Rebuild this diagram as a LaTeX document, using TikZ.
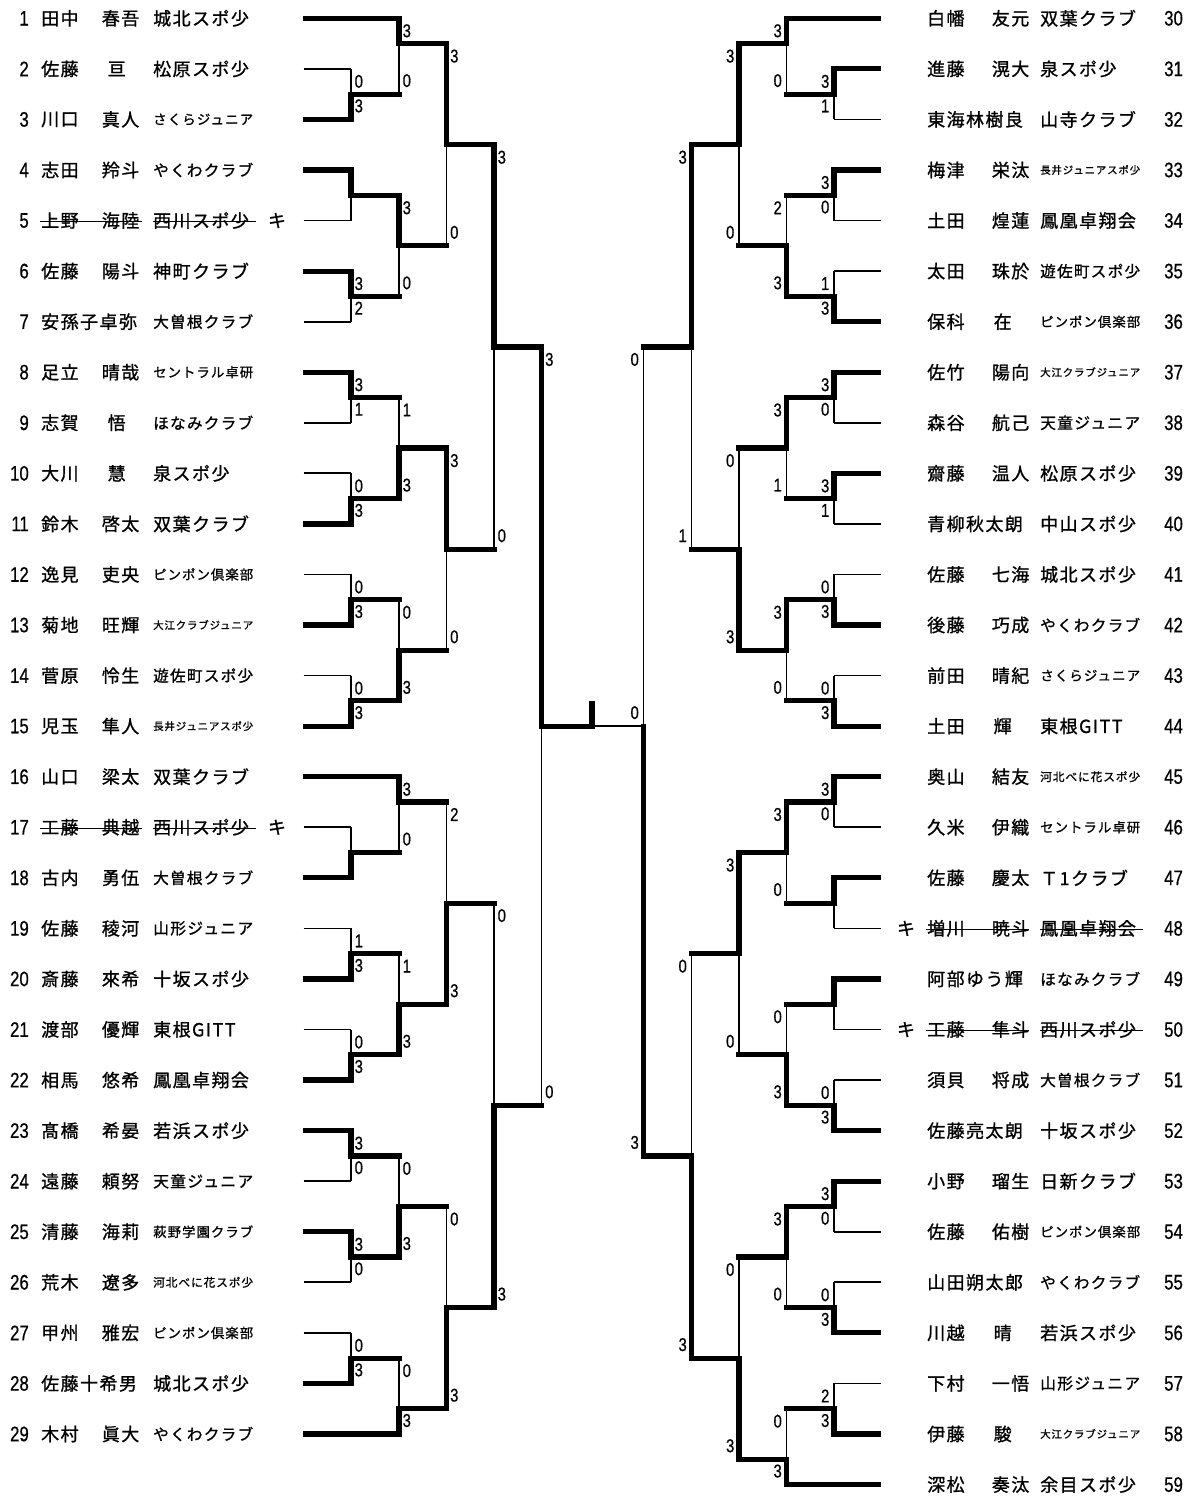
\documentclass[tikz,border=0pt]{standalone}
\usepackage{fontspec}
\usepackage{graphicx}
\newfontfamily\jp[LetterSpace=8,FakeBold=1]{Noto Sans CJK JP}
\newfontfamily\dg[FakeStretch=0.8,FakeBold=0.6]{Liberation Sans}
\newsavebox\clubbox
\newlength\clubw \setlength\clubw{100pt}
\newcommand\fitclub[1]{\sbox\clubbox{\jp\fontsize{18}{18}\selectfont #1}\ifdim\wd\clubbox>\clubw\resizebox{\clubw}{!}{\usebox\clubbox}\else\usebox\clubbox\fi}
\tikzset{
 thk/.style={line width=5.2pt, line cap=rect},
 thn/.style={line width=1.7pt},
 lbl/.style={font=\dg\fontsize{18.5}{18.5}\selectfont, inner sep=0pt},
 num/.style={font=\dg\fontsize{21}{21}\selectfont, inner sep=0pt},
 nm/.style={font=\jp\fontsize{18}{18}\selectfont, inner sep=0pt},
 strike/.style={line width=1.3pt},
}
% left player: row, num, family, given, club
\newcommand\PL[5]{%
 \node[num,anchor=east] (ln#2) at (29,#1) {#2};
 \node[nm,anchor=west] (lf#2) at (41,#1) {#3};
 \node[nm,anchor=east] (lg#2) at (139.5,#1) {#4};
 \node[nm,anchor=west] (lc#2) at (153,#1) {\fitclub{#5}};}
\newcommand\PLc[5]{%
 \node[num,anchor=east] (ln#2) at (29,#1) {#2};
 \node[nm,anchor=west] (lf#2) at (41,#1) {#3};
 \node[nm] (lg#2) at (116.7,#1) {#4};
 \node[nm,anchor=west] (lc#2) at (153,#1) {\fitclub{#5}};}
\newcommand\PLf[4]{%
 \node[num,anchor=east] (ln#2) at (29,#1) {#2};
 \node[nm,anchor=west] (lf#2) at (41,#1) {#3};
 \node[nm,anchor=west] (lc#2) at (153,#1) {\fitclub{#4}};}
\newcommand\PR[5]{%
 \node[nm,anchor=west] (rf#2) at (927,#1) {#3};
 \node[nm,anchor=east] (rg#2) at (1029.5,#1) {#4};
 \node[nm,anchor=west] (rc#2) at (1040,#1) {\fitclub{#5}};
 \node[num,anchor=west] (rn#2) at (1164,#1) {#2};}
\newcommand\PRc[5]{%
 \node[nm,anchor=west] (rf#2) at (927,#1) {#3};
 \node[nm] (rg#2) at (1002.7,#1) {#4};
 \node[nm,anchor=west] (rc#2) at (1040,#1) {\fitclub{#5}};
 \node[num,anchor=west] (rn#2) at (1164,#1) {#2};}
\newcommand\PRf[4]{%
 \node[nm,anchor=west] (rf#2) at (927,#1) {#3};
 \node[nm,anchor=west] (rc#2) at (1040,#1) {\fitclub{#4}};
 \node[num,anchor=west] (rn#2) at (1164,#1) {#2};}
% match: x, top, bottom, junction, winner(1/2), score top, score bottom, side L/R
\newcommand\mt[8]{%
 \ifnum#5=1\relax
  \draw[thn] (#1,#3) -- (#1,#4);
  \draw[thk] (#1,#2) -- (#1,#4);
 \else
  \draw[thn] (#1,#2) -- (#1,#4);
  \draw[thk] (#1,#3) -- (#1,#4);
 \fi
 \if#8L\relax
  \node[lbl,anchor=west,xshift=3.5pt,yshift=-12.5pt] at (#1,#2) {#6};
  \node[lbl,anchor=west,xshift=3.5pt,yshift=13.5pt] at (#1,#3) {#7};
 \else
  \node[lbl,anchor=east,xshift=-4.5pt,yshift=-12.5pt] at (#1,#2) {#6};
  \node[lbl,anchor=east,xshift=-4.5pt,yshift=13.5pt] at (#1,#3) {#7};
 \fi}
\begin{document}
\begin{tikzpicture}[x=1pt,y=-50.56pt]
\fill[white] (0pt,0pt) rectangle (1194pt,-1499pt);
\useasboundingbox (0pt,0pt) rectangle (1194pt,-1499pt);
\begin{scope}[yshift=-18.3pt]
% ---------- left texts ----------
\PL{0}{1}{田中}{春吾}{城北スポ少}
\PLc{1}{2}{佐藤}{亘}{松原スポ少}
\PL{2}{3}{川口}{真人}{さくらジュニア}
\PL{3}{4}{志田}{羚斗}{やくわクラブ}
\PL{4}{5}{上野}{海陸}{西川スポ少}
\PL{5}{6}{佐藤}{陽斗}{神町クラブ}
\PLf{6}{7}{安孫子卓弥}{大曽根クラブ}
\PL{7}{8}{足立}{晴哉}{セントラル卓研}
\PLc{8}{9}{志賀}{悟}{ほなみクラブ}
\PLc{9}{10}{大川}{慧}{泉スポ少}
\PL{10}{11}{鈴木}{啓太}{双葉クラブ}
\PL{11}{12}{逸見}{吏央}{ピンポン倶楽部}
\PL{12}{13}{菊地}{旺輝}{大江クラブジュニア}
\PL{13}{14}{菅原}{怜生}{遊佐町スポ少}
\PL{14}{15}{児玉}{隼人}{長井ジュニアスポ少}
\PL{15}{16}{山口}{梁太}{双葉クラブ}
\PL{16}{17}{工藤}{典越}{西川スポ少}
\PL{17}{18}{古内}{勇伍}{大曽根クラブ}
\PL{18}{19}{佐藤}{稜河}{山形ジュニア}
\PL{19}{20}{斎藤}{來希}{十坂スポ少}
\PL{20}{21}{渡部}{優輝}{東根GITT}
\PL{21}{22}{相馬}{悠希}{鳳凰卓翔会}
\PL{22}{23}{髙橋}{希晏}{若浜スポ少}
\PL{23}{24}{遠藤}{頼努}{天童ジュニア}
\PL{24}{25}{清藤}{海莉}{萩野学園クラブ}
\PL{25}{26}{荒木}{遼多}{河北べに花スポ少}
\PL{26}{27}{甲州}{雅宏}{ピンポン倶楽部}
\PLf{27}{28}{佐藤十希男}{城北スポ少}
\PL{28}{29}{木村}{眞大}{やくわクラブ}
\node[nm] (lk5) at (277,4) {キ};
\node[nm] (lk17) at (277,16) {キ};
\foreach \r in {4,16}{
 \draw[strike] (40,\r+0.02) -- (142,\r+0.02);
 \draw[strike] (153,\r+0.02) -- (256,\r+0.02);}
% ---------- right texts ----------
\PR{0}{30}{白幡}{友元}{双葉クラブ}
\PR{1}{31}{進藤}{滉大}{泉スポ少}
\PRf{2}{32}{東海林樹良}{山寺クラブ}
\PR{3}{33}{梅津}{栄汰}{長井ジュニアスポ少}
\PR{4}{34}{土田}{煌蓮}{鳳凰卓翔会}
\PR{5}{35}{太田}{珠於}{遊佐町スポ少}
\PRc{6}{36}{保科}{在}{ピンポン倶楽部}
\PR{7}{37}{佐竹}{陽向}{大江クラブジュニア}
\PR{8}{38}{森谷}{航己}{天童ジュニア}
\PR{9}{39}{齋藤}{温人}{松原スポ少}
\PRf{10}{40}{青柳秋太朗}{中山スポ少}
\PR{11}{41}{佐藤}{七海}{城北スポ少}
\PR{12}{42}{後藤}{巧成}{やくわクラブ}
\PR{13}{43}{前田}{晴紀}{さくらジュニア}
\PRc{14}{44}{土田}{輝}{東根GITT}
\PR{15}{45}{奥山}{結友}{河北べに花スポ少}
\PR{16}{46}{久米}{伊織}{セントラル卓研}
\PR{17}{47}{佐藤}{慶太}{Ｔ1クラブ}
\PR{18}{48}{増川}{暁斗}{鳳凰卓翔会}
\PRf{19}{49}{阿部ゆう輝}{ほなみクラブ}
\PR{20}{50}{工藤}{隼斗}{西川スポ少}
\PR{21}{51}{須貝}{将成}{大曽根クラブ}
\PRf{22}{52}{佐藤亮太朗}{十坂スポ少}
\PR{23}{53}{小野}{瑠生}{日新クラブ}
\PR{24}{54}{佐藤}{佑樹}{ピンポン倶楽部}
\PRf{25}{55}{山田朔太郎}{やくわクラブ}
\PRc{26}{56}{川越}{晴}{若浜スポ少}
\PR{27}{57}{下村}{一悟}{山形ジュニア}
\PRc{28}{58}{伊藤}{駿}{大江クラブジュニア}
\PR{29}{59}{深松}{奏汰}{余目スポ少}
\node[nm] (rk48) at (906,18) {キ};
\node[nm] (rk50) at (906,20) {キ};
\foreach \r in {18,20}{
 \draw[strike] (926,\r+0.02) -- (1029,\r+0.02);
 \draw[strike] (1040,\r+0.02) -- (1143,\r+0.02);}
% ---------- left bracket ----------
\foreach \r in {1,4,6,8,9,11,13,16,18,20,23,25,26} \draw[thn] (303.5,\r) -- (351,\r);
\foreach \r in {2,3,5,7,10,12,14,17,19,21,22,24,27} \draw[thk] (306,\r) -- (351,\r);
\foreach \r in {0,15,28} \draw[thk] (306,\r) -- (399,\r);
\foreach \j in {1.5,3.5,5.5,7.5,9.5,11.5,13.5,16.5,18.5,20.5,22.5,24.5,26.5} \draw[thk] (351,\j) -- (399,\j);
\foreach \j in {0.5,4.5,8.5,12.5,15.5,19.5,23.5,27.5} \draw[thk] (399,\j) -- (446.5,\j);
\foreach \j in {2.5,10.5,17.5,25.5} \draw[thk] (446.5,\j) -- (494,\j);
\foreach \j in {6.5,21.5} \draw[thk] (494,\j) -- (541.5,\j);
\mt{351}{1}{2}{1.5}{2}{0}{3}{L}
\mt{351}{3}{4}{3.5}{1}{}{}{L}
\mt{351}{5}{6}{5.5}{1}{3}{2}{L}
\mt{351}{7}{8}{7.5}{1}{3}{1}{L}
\mt{351}{9}{10}{9.5}{2}{0}{3}{L}
\mt{351}{11}{12}{11.5}{2}{0}{3}{L}
\mt{351}{13}{14}{13.5}{2}{0}{3}{L}
\mt{351}{16}{17}{16.5}{2}{}{}{L}
\mt{351}{18}{19}{18.5}{2}{1}{3}{L}
\mt{351}{20}{21}{20.5}{2}{0}{3}{L}
\mt{351}{22}{23}{22.5}{1}{3}{0}{L}
\mt{351}{24}{25}{24.5}{1}{3}{0}{L}
\mt{351}{26}{27}{26.5}{2}{0}{3}{L}
\mt{399}{0}{1.5}{0.5}{1}{3}{0}{L}
\mt{399}{3.5}{5.5}{4.5}{1}{3}{0}{L}
\mt{399}{7.5}{9.5}{8.5}{2}{1}{3}{L}
\mt{399}{11.5}{13.5}{12.5}{2}{0}{3}{L}
\mt{399}{15}{16.5}{15.5}{1}{3}{0}{L}
\mt{399}{18.5}{20.5}{19.5}{2}{1}{3}{L}
\mt{399}{22.5}{24.5}{23.5}{2}{0}{3}{L}
\mt{399}{26.5}{28}{27.5}{2}{0}{3}{L}
\mt{446.5}{0.5}{4.5}{2.5}{1}{3}{0}{L}
\mt{446.5}{8.5}{12.5}{10.5}{1}{3}{0}{L}
\mt{446.5}{15.5}{19.5}{17.5}{2}{2}{3}{L}
\mt{446.5}{23.5}{27.5}{25.5}{2}{0}{3}{L}
\mt{494}{2.5}{10.5}{6.5}{1}{3}{0}{L}
\mt{494}{17.5}{25.5}{21.5}{2}{0}{3}{L}
\mt{541.5}{6.5}{21.5}{14}{1}{3}{0}{L}
% ---------- final ----------
\draw[thn] (643.5,14) -- (592,14);
\draw[thk] (541.5,14) -- (592,14);
\draw[thk] (592,13.56) -- (592,14);
\node[lbl,anchor=east,xshift=-4.5pt,yshift=13.5pt] (fin) at (643.5,14) {0};
% ---------- right bracket ----------
\foreach \r in {2,4,5,8,10,11,13,16,18,20,21,24,25,27} \draw[thn] (881,\r) -- (834,\r);
\foreach \r in {1,3,6,7,9,12,14,15,17,19,22,23,26,28} \draw[thk] (878.5,\r) -- (834,\r);
\foreach \r in {0,29} \draw[thk] (878.5,\r) -- (786.5,\r);
\foreach \j in {1.5,3.5,5.5,7.5,9.5,11.5,13.5,15.5,17.5,19.5,21.5,23.5,25.5,27.5} \draw[thk] (834,\j) -- (786.5,\j);
\foreach \j in {0.5,4.5,8.5,12.5,16.5,20.5,24.5,28.5} \draw[thk] (786.5,\j) -- (739,\j);
\foreach \j in {2.5,10.5,18.5,26.5} \draw[thk] (739,\j) -- (691.5,\j);
\foreach \j in {6.5,22.5} \draw[thk] (691.5,\j) -- (643.5,\j);
\mt{834}{1}{2}{1.5}{1}{3}{1}{R}
\mt{834}{3}{4}{3.5}{1}{3}{0}{R}
\mt{834}{5}{6}{5.5}{2}{1}{3}{R}
\mt{834}{7}{8}{7.5}{1}{3}{0}{R}
\mt{834}{9}{10}{9.5}{1}{3}{1}{R}
\mt{834}{11}{12}{11.5}{2}{0}{3}{R}
\mt{834}{13}{14}{13.5}{2}{0}{3}{R}
\mt{834}{15}{16}{15.5}{1}{3}{0}{R}
\mt{834}{17}{18}{17.5}{1}{}{}{R}
\mt{834}{19}{20}{19.5}{1}{}{}{R}
\mt{834}{21}{22}{21.5}{2}{0}{3}{R}
\mt{834}{23}{24}{23.5}{1}{3}{0}{R}
\mt{834}{25}{26}{25.5}{2}{0}{3}{R}
\mt{834}{27}{28}{27.5}{2}{2}{3}{R}
\mt{786.5}{0}{1.5}{0.5}{1}{3}{0}{R}
\mt{786.5}{3.5}{5.5}{4.5}{2}{2}{3}{R}
\mt{786.5}{7.5}{9.5}{8.5}{1}{3}{1}{R}
\mt{786.5}{11.5}{13.5}{12.5}{1}{3}{0}{R}
\mt{786.5}{15.5}{17.5}{16.5}{1}{3}{0}{R}
\mt{786.5}{19.5}{21.5}{20.5}{2}{0}{3}{R}
\mt{786.5}{23.5}{25.5}{24.5}{1}{3}{0}{R}
\mt{786.5}{27.5}{29}{28.5}{2}{0}{3}{R}
\mt{739}{0.5}{4.5}{2.5}{1}{3}{0}{R}
\mt{739}{8.5}{12.5}{10.5}{2}{0}{3}{R}
\mt{739}{16.5}{20.5}{18.5}{1}{3}{0}{R}
\mt{739}{24.5}{28.5}{26.5}{2}{0}{3}{R}
\mt{691.5}{2.5}{10.5}{6.5}{1}{3}{1}{R}
\mt{691.5}{18.5}{26.5}{22.5}{2}{0}{3}{R}
\mt{643.5}{6.5}{22.5}{14}{2}{0}{3}{R}
\end{scope}
\end{tikzpicture}
\end{document}
